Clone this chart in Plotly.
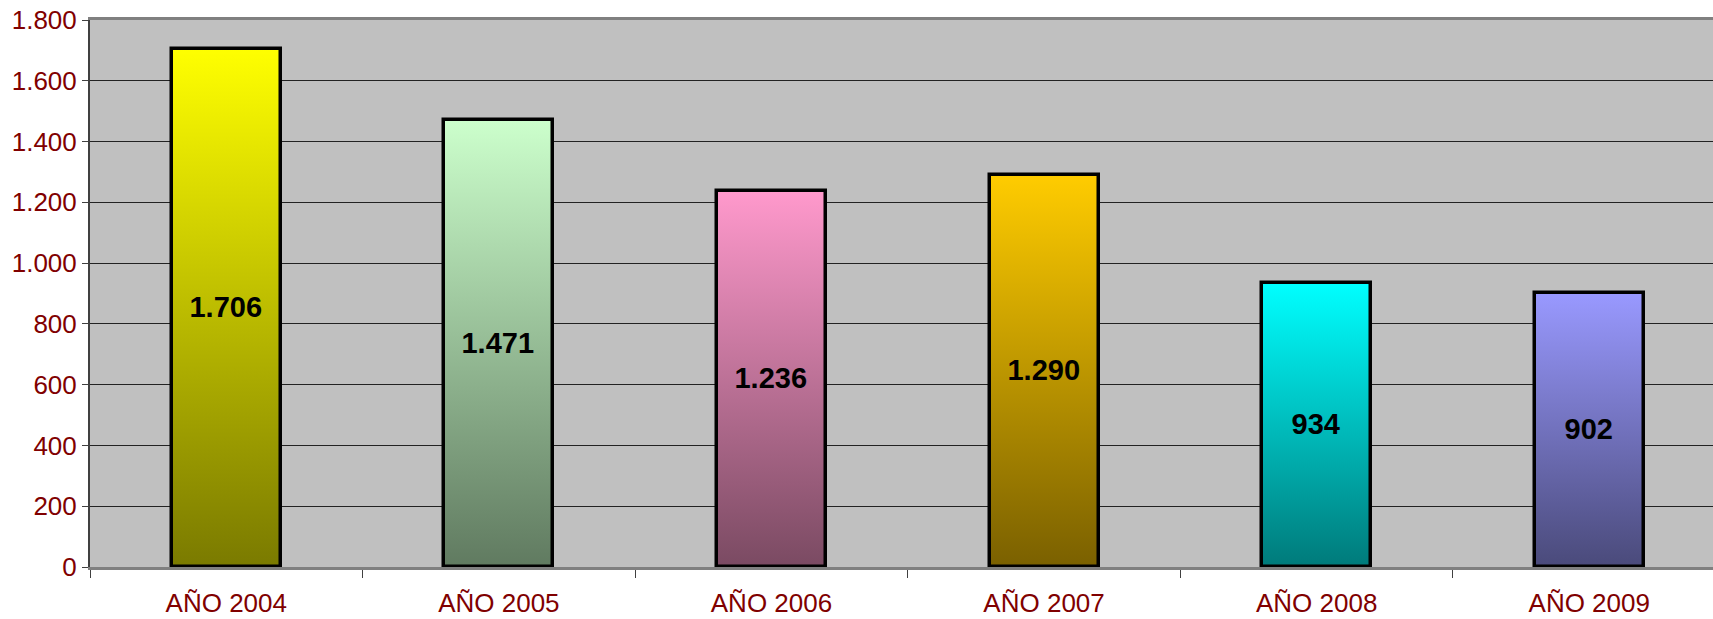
import plotly.graph_objects as go

years = ["AÑO 2004", "AÑO 2005", "AÑO 2006", "AÑO 2007", "AÑO 2008", "AÑO 2009"]
values = [1706, 1471, 1236, 1290, 934, 902]
top_colors = ["#FFFF00", "#CCFFCC", "#FF99CC", "#FFCC00", "#00FFFF", "#9999FF"]
bottom_colors = ["#7A7A00", "#607A60", "#7A4A62", "#7A6000", "#007A7A", "#4A4A7A"]
y_ticks = [0, 200, 400, 600, 800, 1000, 1200, 1400, 1600, 1800]

BAR_W = 0.40
positions = list(range(len(years)))
X_RANGE = [-0.5, 5.454]

fig = go.Figure()

# gradient fills (bars' interiors), on the base axis
for i, (v, tc, bc) in enumerate(zip(values, top_colors, bottom_colors)):
    x0, x1 = i - BAR_W / 2, i + BAR_W / 2
    fig.add_trace(go.Scatter(
        x=[x0, x1, x1, x0, x0], y=[0, 0, v, v, 0],
        mode="lines", fill="toself", line=dict(width=0),
        fillgradient=dict(type="vertical", colorscale=[[0, bc], [1, tc]]),
        hoverinfo="skip", showlegend=False,
    ))

# bars: outline + labels, on the overlaying axis so they sit on top
fig.add_trace(go.Bar(
    x=positions, y=values, width=BAR_W, xaxis="x2",
    marker=dict(color="rgba(0,0,0,0)", line=dict(color="#000000", width=3.5)),
    texttemplate="%{y:,d}", textposition="inside", insidetextanchor="middle",
    textfont=dict(family="Liberation Sans, Arial, sans-serif", size=29, color="#000000", weight="bold"),
    showlegend=False,
))

tick_font = dict(family="Liberation Sans, Arial, sans-serif", size=26, color="#800000")

fig.update_layout(
    width=1713, height=619,
    margin=dict(l=90, r=0, t=20, b=52),
    paper_bgcolor="#FFFFFF", plot_bgcolor="#C0C0C0",
    separators=",.",
    xaxis=dict(
        range=X_RANGE, tickvals=[-0.5, 0.5, 1.5, 2.5, 3.5, 4.5, 5.5],
        showticklabels=False, ticks="outside", ticklen=8, tickcolor="#404040", tickwidth=1,
        showgrid=False, zeroline=False, automargin=False,
        showline=True, linecolor="#808080", linewidth=3, mirror=True,
    ),
    xaxis2=dict(
        overlaying="x", side="bottom", range=X_RANGE,
        tickvals=positions, ticktext=years, ticks="", showgrid=False, zeroline=False,
        tickfont=tick_font, showline=False, ticklabelstandoff=18, automargin=False,
        ticklabeloverflow="allow",
    ),
    yaxis=dict(
        range=[0, 1800], tickvals=y_ticks, tickformat=",d",
        tickfont=tick_font, ticks="outside", ticklen=6, tickcolor="#404040",
        showgrid=True, gridcolor="#222222", gridwidth=1, zeroline=False, automargin=False,
        showline=True, linecolor="#404040", linewidth=2, ticklabeloverflow="allow",
    ),
    bargap=0,
)

fig.write_html(
    "out.html",
    config={"displayModeBar": False},
    post_script="document.body.style.margin='0'; document.body.style.overflow='hidden';",
)
